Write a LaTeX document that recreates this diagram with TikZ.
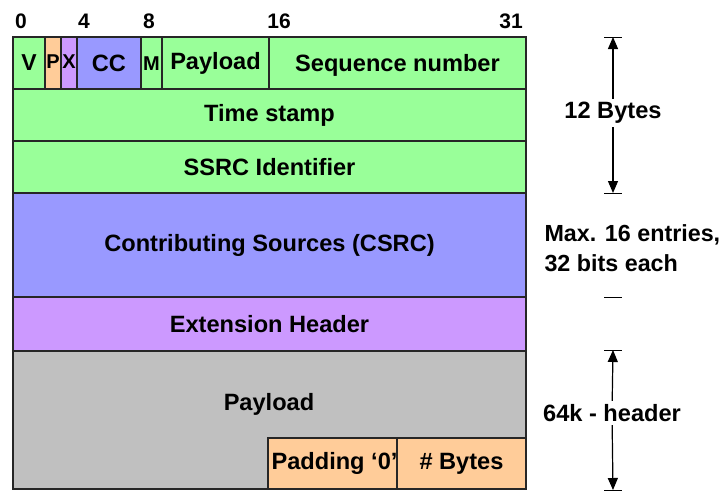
\documentclass[tikz,border=0pt]{standalone}
\usepackage{fontspec}
\setmainfont{Liberation Sans}
\usetikzlibrary{arrows.meta}
\definecolor{rtpgreen}{RGB}{153,255,153}
\definecolor{rtporange}{RGB}{255,204,153}
\definecolor{rtppurple}{RGB}{204,153,255}
\definecolor{rtpblue}{RGB}{153,153,255}
\definecolor{rtpgray}{RGB}{192,192,192}

\begin{document}
\begin{tikzpicture}[x=1pt,y=-1pt,
  field/.style={draw=black!85,line width=1.2pt},
  txt/.style={font=\bfseries\fontsize{23.6}{30}\selectfont},
  smalltxt/.style={font=\bfseries\fontsize{20}{22}\selectfont},
  dim/.style={black,line width=1.2pt,-{Triangle[length=12pt,width=10pt]}}]
\useasboundingbox (0,0) rectangle (725,491);
% bit numbers
\foreach \x/\b in {21/0,84/4,149/8,279/16,511/31}
  \node[font=\bfseries\fontsize{21}{24}\selectfont] (bit\b) at (\x,21) {\b};
% header rows
\draw[field,fill=rtpgreen] (13,89) rectangle (526,141) node[midway,txt] (ts) {Time stamp};
\draw[field,fill=rtpgreen] (13,141) rectangle (526,193) node[midway,txt] (ssrc) {SSRC Identifier};
\draw[field,fill=rtpblue] (13,193) rectangle (526,297) node[midway,txt] (csrc) {Contributing Sources (CSRC)};
\draw[field,fill=rtppurple] (13,297) rectangle (526,351) node[midway,txt] (ext) {Extension Header};
\draw[field,fill=rtpgray] (13,351) rectangle (526,489);
\node[txt] (payload) at (269,404) {Payload};
\draw[field,fill=rtporange] (397,438) rectangle (526,489) node[midway,txt] (nbytes) {\# Bytes};
\draw[field,fill=rtporange] (268,438) rectangle (397,489) node[midway,txt,xshift=2pt] (pad) {Padding ‘0’};
% first word
\draw[field,fill=rtpgreen] (13,37) rectangle (45,89) node[midway,font=\bfseries\fontsize{23}{26}\selectfont] (v) {V};
\draw[field,fill=rtporange] (45,37) rectangle (61,89) node[midway,smalltxt,yshift=1pt] (p) {P};
\draw[field,fill=rtppurple] (61,37) rectangle (77,89) node[midway,smalltxt,yshift=1pt] (x) {X};
\draw[field,fill=rtpblue] (77,37) rectangle (141,89) node[midway,txt] (cc) {CC};
\draw[field,fill=rtpgreen] (141,37) rectangle (162,89) node[midway,smalltxt,yshift=-1pt] (m) {M};
\draw[field,fill=rtpgreen] (162,37) rectangle (269,89) node[midway,txt] (pt) {Payload};
\draw[field,fill=rtpgreen] (269,37) rectangle (526,89) node[midway,txt,yshift=-2pt] (seq) {Sequence number};
% sizes on the right
\node[txt] (hdrlen) at (613,113) {12 Bytes};
\coordinate (hdrtop) at (613,37);
\coordinate (hdrbot) at (613,193);
\draw[dim] (hdrlen) -- (hdrtop);
\draw[dim] (hdrlen) -- (hdrbot);
\node[txt,anchor=west,align=left,font=\bfseries\fontsize{23.3}{30}\selectfont] (csrclen) at (541,248) {Max. 16 entries,\\32 bits each};
\coordinate (csrcend) at (613,297);
\node[txt] (paylen) at (612,413) {64k - header};
\coordinate (paytop) at (613,350);
\coordinate (paybot) at (613,490);
\draw[dim] (paylen) -- (paytop);
\draw[dim] (paylen) -- (paybot);
\foreach \c in {hdrtop,hdrbot,csrcend,paytop,paybot}
  \draw[line width=1pt] ([xshift=-9pt]\c) -- ([xshift=9pt]\c);
\end{tikzpicture}
\end{document}
